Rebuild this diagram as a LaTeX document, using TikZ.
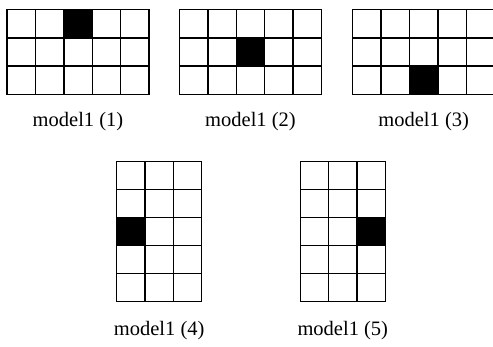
\documentclass[tikz,border=0pt]{standalone}
\usepackage{fontspec}
\setmainfont{Liberation Serif}
\begin{document}
\begin{tikzpicture}[x=1pt,y=1pt,
  gridline/.style={line width=1.4pt, line cap=rect},
  cellfill/.style={fill=black},
  lab/.style={anchor=base, inner sep=0pt, font=\fontsize{20.5}{23}\selectfont}]
\useasboundingbox (0,0) rectangle (493,-347);
\clip (0,0) rectangle (493,-347);
% grid 1
\begin{scope}[shift={(7,-94.5)}, x=28.4pt, y=28.33pt]
  \fill[cellfill] (2,2) rectangle (3,3);
  \foreach \i in {0,...,5} \draw[gridline] (\i,0) -- (\i,3);
  \foreach \j in {0,...,3} \draw[gridline] (0,\j) -- (5,\j);
  \coordinate (g1) at (2.5,0);
\end{scope}
% grid 2
\begin{scope}[shift={(179.5,-94.5)}, x=28.4pt, y=28.33pt]
  \fill[cellfill] (2,1) rectangle (3,2);
  \foreach \i in {0,...,5} \draw[gridline] (\i,0) -- (\i,3);
  \foreach \j in {0,...,3} \draw[gridline] (0,\j) -- (5,\j);
  \coordinate (g2) at (2.5,0);
\end{scope}
% grid 3
\begin{scope}[shift={(352.7,-94.5)}, x=28.4pt, y=28.33pt]
  \fill[cellfill] (2,0) rectangle (3,1);
  \foreach \i in {0,...,5} \draw[gridline] (\i,0) -- (\i,3);
  \foreach \j in {0,...,3} \draw[gridline] (0,\j) -- (5,\j);
  \coordinate (g3) at (2.5,0);
\end{scope}
% grid 4
\begin{scope}[shift={(116.7,-301.7)}, x=28.33pt, y=28pt]
  \fill[cellfill] (0,2) rectangle (1,3);
  \foreach \i in {0,...,3} \draw[gridline] (\i,0) -- (\i,5);
  \foreach \j in {0,...,5} \draw[gridline] (0,\j) -- (3,\j);
  \coordinate (g4) at (1.5,0);
\end{scope}
% grid 5
\begin{scope}[shift={(300.3,-301.7)}, x=28.33pt, y=28pt]
  \fill[cellfill] (2,2) rectangle (3,3);
  \foreach \i in {0,...,3} \draw[gridline] (\i,0) -- (\i,5);
  \foreach \j in {0,...,5} \draw[gridline] (0,\j) -- (3,\j);
  \coordinate (g5) at (1.5,0);
\end{scope}
\node[lab] (l1) at ([yshift=-32pt]g1) {model1 (1)};
\node[lab] (l2) at ([yshift=-32pt]g2) {model1 (2)};
\node[lab] (l3) at ([yshift=-32pt]g3) {model1 (3)};
\node[lab] (l4) at ([yshift=-34.3pt]g4) {model1 (4)};
\node[lab] (l5) at ([yshift=-34.3pt]g5) {model1 (5)};
\end{tikzpicture}
\end{document}
